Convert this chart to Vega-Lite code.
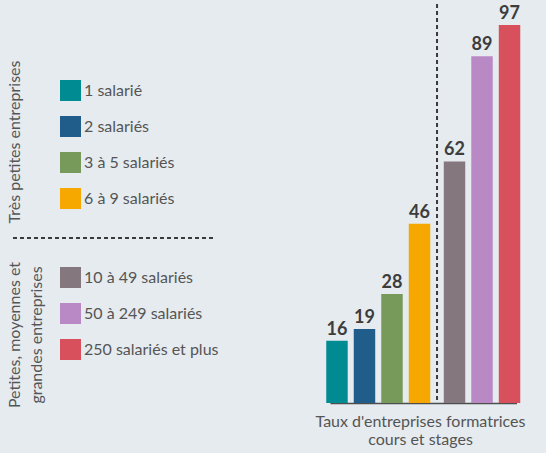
{
  "$schema": "https://vega.github.io/schema/vega-lite/v6.json",
  "description": "Taux d'entreprises formatrices (cours et stages) selon la taille de l'entreprise",
  "width": 262,
  "height": 399,
  "autosize": "none",
  "padding": {"left": 284, "top": 4, "right": 0, "bottom": 50},
  "background": "#e5ebef",
  "config": {
    "view": {"stroke": null},
    "font": "Lato",
    "legend": {
      "orient": "none",
      "padding": 0,
      "symbolType": "square",
      "symbolSize": 441,
      "symbolStrokeWidth": 0,
      "symbolOpacity": 1,
      "labelFontSize": 16,
      "labelColor": "#555555",
      "labelOffset": 3,
      "rowPadding": 15,
      "titleOrient": "left",
      "titleAnchor": "middle",
      "titleFontSize": 16,
      "titleFontWeight": "normal",
      "titleColor": "#555555"
    }
  },
  "data": {
    "values": [
      {"taille": "1 salarié", "groupe": "TPE", "taux": 16},
      {"taille": "2 salariés", "groupe": "TPE", "taux": 19},
      {"taille": "3 à 5 salariés", "groupe": "TPE", "taux": 28},
      {"taille": "6 à 9 salariés", "groupe": "TPE", "taux": 46},
      {"taille": "10 à 49 salariés", "groupe": "PME-GE", "taux": 62},
      {"taille": "50 à 249 salariés", "groupe": "PME-GE", "taux": 89},
      {"taille": "250 salariés et plus", "groupe": "PME-GE", "taux": 97}
    ]
  },
  "encoding": {
    "x": {
      "field": "taille",
      "type": "nominal",
      "sort": null,
      "scale": {
        "domain": ["1 salarié", "2 salariés", "3 à 5 salariés", "6 à 9 salariés", "10 à 49 salariés", "50 à 249 salariés", "250 salariés et plus"],
        "range": [46, 232.5],
        "paddingInner": 0.22,
        "paddingOuter": 0,
        "round": false
      },
      "axis": {
        "title": ["Taux d'entreprises formatrices", "cours et stages"],
        "labels": false,
        "ticks": false,
        "grid": false,
        "domainColor": "#4d4d4d",
        "domainWidth": 1.5,
        "titleFontSize": 16,
        "titleFontWeight": "normal",
        "titleColor": "#555555",
        "titlePadding": 10,
        "titleLineHeight": 18,
        "titleX": 136
      }
    }
  },
  "layer": [
    {
      "transform": [{"filter": "datum.groupe === 'TPE'"}],
      "encoding": {
        "y": {"field": "taux", "type": "quantitative", "scale": {"domain": [0, 102.4], "nice": false}, "axis": null}
      },
      "layer": [
        {
          "mark": {"type": "bar", "xOffset": -3.75},
          "encoding": {
            "color": {
              "field": "taille",
              "type": "nominal",
              "sort": null,
              "scale": {
                "domain": ["1 salarié", "2 salariés", "3 à 5 salariés", "6 à 9 salariés"],
                "range": ["#008a92", "#215d8b", "#77995a", "#f6a800"]
              },
              "legend": {
                "title": "Très petites entreprises",
                "legendX": -277,
                "legendY": 76,
                "titlePadding": 36,
                "encoding": {
                  "title": {"angle": {"value": -90}, "align": {"value": "center"}, "baseline": {"value": "top"}, "dx": {"value": 3}}
                }
              }
            }
          }
        },
        {
          "mark": {"type": "text", "xOffset": -3.75, "dy": -6, "baseline": "alphabetic", "fontSize": 18, "fontWeight": "bold", "color": "#3d3d3d"},
          "encoding": {"text": {"field": "taux", "type": "quantitative"}}
        }
      ]
    },
    {
      "transform": [{"filter": "datum.groupe === 'PME-GE'"}],
      "encoding": {
        "y": {"field": "taux", "type": "quantitative", "scale": {"domain": [0, 102.4], "nice": false}, "axis": null}
      },
      "layer": [
        {
          "mark": {"type": "bar", "xOffset": 3.75},
          "encoding": {
            "color": {
              "field": "taille",
              "type": "nominal",
              "sort": null,
              "scale": {
                "domain": ["10 à 49 salariés", "50 à 249 salariés", "250 salariés et plus"],
                "range": ["#85777e", "#b889c4", "#d8505b"]
              },
              "legend": {
                "title": ["Petites, moyennes et", "grandes entreprises"],
                "legendX": -277,
                "legendY": 263,
                "titleLineHeight": 22,
                "titlePadding": 14,
                "encoding": {
                  "title": {"angle": {"value": -90}, "align": {"value": "center"}, "baseline": {"value": "top"}, "dx": {"value": -32}}
                }
              }
            }
          }
        },
        {
          "mark": {"type": "text", "xOffset": 3.75, "dy": -6, "baseline": "alphabetic", "fontSize": 18, "fontWeight": "bold", "color": "#3d3d3d"},
          "encoding": {"text": {"field": "taux", "type": "quantitative"}}
        }
      ]
    },
    {
      "data": {"values": [{}]},
      "mark": {"type": "rule", "xOffset": -3, "strokeWidth": 2, "color": "#3a3a3a"},
      "encoding": {
        "x": {"datum": "10 à 49 salariés", "bandPosition": 0},
        "strokeDash": {
          "datum": "séparation",
          "scale": {"range": [[4, 3]]},
          "legend": {
            "title": null,
            "legendX": -272,
            "legendY": 133,
            "symbolType": "stroke",
            "symbolSize": 40000,
            "symbolStrokeWidth": 2,
            "symbolStrokeColor": "#3a3a3a",
            "labelExpr": "''",
            "labelOffset": 0
          }
        }
      }
    }
  ],
  "resolve": {
    "scale": {"color": "independent"},
    "legend": {"color": "independent"}
  }
}
